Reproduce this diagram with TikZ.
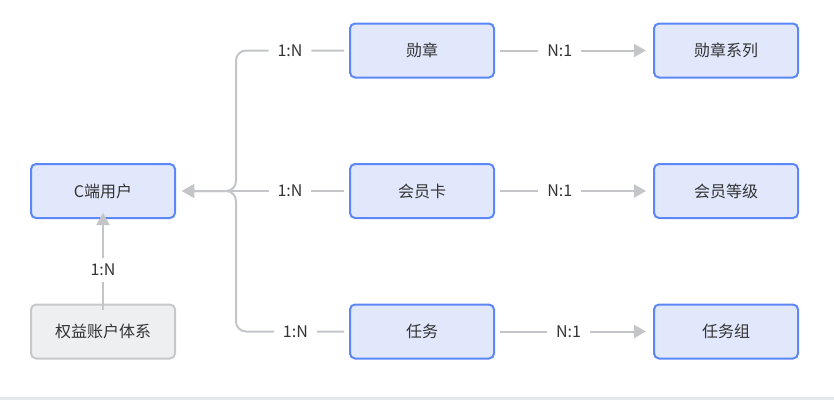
\documentclass[tikz,border=0pt]{standalone}
\usepackage{fontspec}
\setmainfont{Noto Sans CJK SC}
\usetikzlibrary{arrows.meta,calc}
\definecolor{bfill}{HTML}{E1E8FC}
\definecolor{bdraw}{HTML}{5B87F7}
\definecolor{gfill}{HTML}{EEEFF1}
\definecolor{gdraw}{HTML}{C6C8CC}
\definecolor{lcol}{HTML}{C3C5C9}
\definecolor{tcol}{HTML}{333333}
\definecolor{botline}{HTML}{E6E7EA}
\begin{document}
\begin{tikzpicture}[x=1pt,y=-1pt,
  box/.style={rectangle, rounded corners=5pt, line width=2pt, minimum width=144pt, minimum height=54pt, inner sep=0pt, font=\fontsize{16}{18}\selectfont, text=tcol},
  ent/.style={box, draw=bdraw, fill=bfill},
  ext/.style={box, draw=gdraw, fill=gfill},
  conn/.style={draw=lcol, line width=2pt},
  tip/.style={-{Triangle[length=12pt,width=13pt]}},
  lbl/.style={fill=white, inner xsep=9pt, inner ysep=2pt, text=tcol, font=\fontsize{16}{18}\selectfont}]
\useasboundingbox (0,0) rectangle (834,400);
\fill[botline] (0,397) rectangle (834,400);

\node[ent] (c) at (103,191) {C端用户};
\node[ext] (q) at (103,331.5) {权益账户体系};
\node[ent] (b1) at (422,50.5) {勋章};
\node[ent] (b2) at (422,191) {会员卡};
\node[ent] (b3) at (422,331.5) {任务};
\node[ent] (s1) at (726,50.5) {勋章系列};
\node[ent] (s2) at (726,191) {会员等级};
\node[ent] (s3) at (726,331.5) {任务组};

\coordinate (j) at (236,191);

\draw[conn, tip, rounded corners=10pt] ([xshift=-5pt]b1.west) -- node[lbl]{1:N} (b1.west -| j) -- (j) -- ([xshift=6pt]c.east);
\draw[conn, tip] ([xshift=-5pt]b2.west) -- node[lbl]{1:N} (j) -- ([xshift=6pt]c.east);
\draw[conn, tip, rounded corners=10pt] ([xshift=-5pt]b3.west) -- node[lbl, pos=0.45]{1:N} (b3.west -| j) -- (j) -- ([xshift=6pt]c.east);

\draw[conn, tip] ([xshift=5pt]b1.east) -- node[lbl, pos=0.41]{N:1} ([xshift=-7pt]s1.west);
\draw[conn, tip] ([xshift=5pt]b2.east) -- node[lbl, pos=0.41]{N:1} ([xshift=-7pt]s2.west);
\draw[conn, tip] ([xshift=5pt]b3.east) -- node[lbl, pos=0.47]{N:1} ([xshift=-7pt]s3.west);

\draw[conn, tip] ([yshift=-6pt]q.north) -- node[lbl, pos=0.41, inner xsep=2pt, inner ysep=6pt]{1:N} ([yshift=6pt]c.south);
\end{tikzpicture}
\end{document}
